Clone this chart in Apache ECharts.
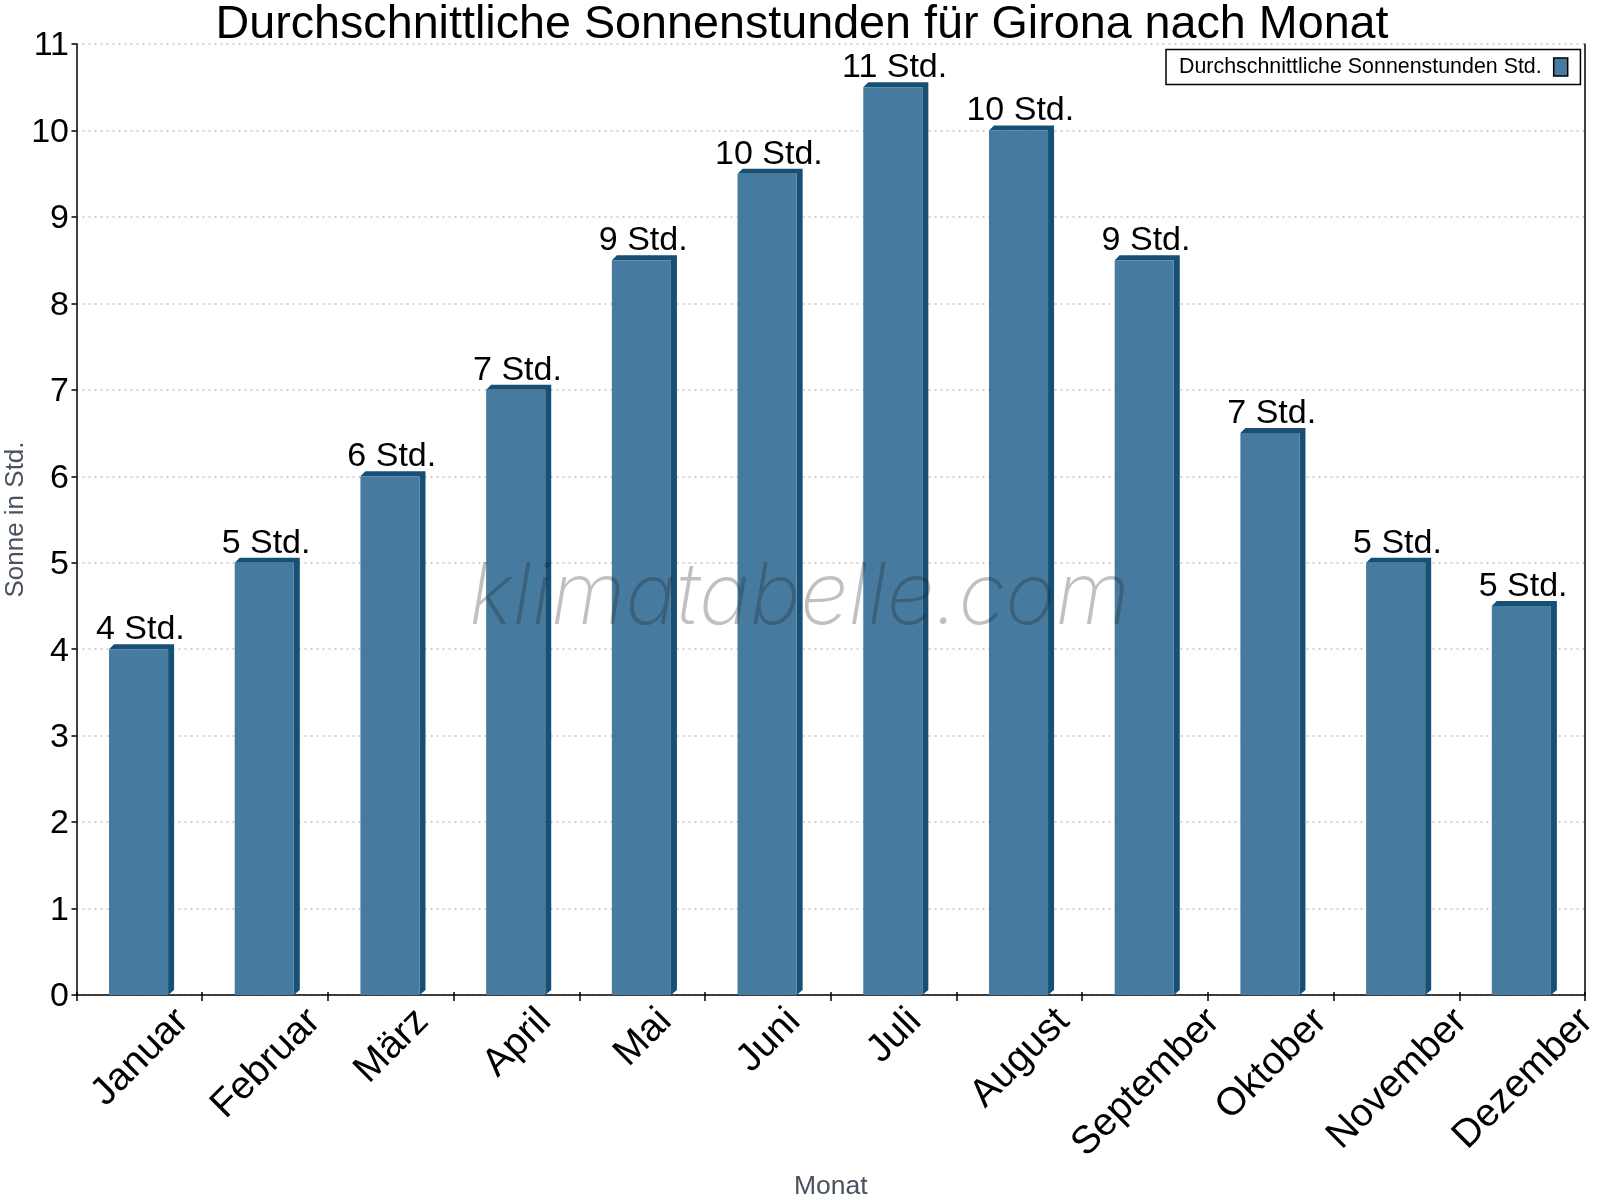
<!DOCTYPE html>
<html><head><meta charset="utf-8">
<style>html,body{margin:0;padding:0;background:#fff}#c{width:1600px;height:1200px}</style>
<script src="https://cdn.jsdelivr.net/npm/echarts@6/dist/echarts.min.js"></script>
</head><body><div id="c"></div>
<script>
const months = ['Januar','Februar','März','April','Mai','Juni','Juli','August','September','Oktober','November','Dezember'];
const sunHours = [4,5,6,7,8.5,9.5,10.5,10,8.5,6.5,5,4.5];
const barLabels = ['4 Std.','5 Std.','6 Std.','7 Std.','9 Std.','10 Std.','11 Std.','10 Std.','9 Std.','7 Std.','5 Std.','5 Std.'];
const yTicks = {min:0,max:11,interval:1};
const seriesName = 'Durchschnittliche Sonnenstunden Std.';
const FRONT='#467a9f', DARK='#174f75', FONT='"Liberation Sans",Arial,sans-serif';
const MONTH_FONT_SIZE = 39;

const ctx = document.createElement('canvas').getContext('2d');
ctx.font = MONTH_FONT_SIZE + 'px "Liberation Sans"';

const chart = echarts.init(document.getElementById('c'),null,{renderer:'canvas'});
function renderBar(params, api){
  const i = params.dataIndex;
  const top = api.coord([api.value(0), api.value(1)]);
  const base = api.coord([api.value(0), 0]);
  const w = api.size([1,0])[0]*0.47;
  const l = top[0]-w/2-0.8, r = l+w, d = 6, u = 5;
  // Month label: rotated box centred on the band, hanging from a common top line under the axis.
  const halfBox = (ctx.measureText(months[i]).width + MONTH_FONT_SIZE*0.75)/(2*Math.SQRT2);
  return {type:'group',children:[
    {type:'polygon',shape:{points:[[l,top[1]],[l+u,top[1]-u],[r+d,top[1]-u],[r+d,base[1]-u],[r,base[1]],[r,top[1]]]},style:{fill:DARK}},
    {type:'rect',shape:{x:l,y:top[1],width:w,height:base[1]-top[1]},style:{fill:FRONT}},
    {type:'text',style:{text:barLabels[i],x:top[0]+1,y:top[1]-2.5,align:'center',verticalAlign:'bottom',font:'34px '+FONT,fill:'#000'}},
    {type:'text',x:base[0]+1,y:base[1]+10+halfBox,rotation:Math.PI/4,
     style:{text:months[i],x:0,y:0,align:'center',verticalAlign:'middle',font:MONTH_FONT_SIZE+'px '+FONT,fill:'#000'}}
  ]};
}
chart.setOption({
  animation:false,
  backgroundColor:'#fff',
  title:{text:'Durchschnittliche Sonnenstunden für Girona nach Monat',left:797,top:-3,textAlign:'center',
    textStyle:{fontFamily:FONT,fontSize:46.7,fontWeight:'normal',color:'#000'}},
  legend:{show:true,data:[{name:seriesName,icon:'rect'}],left:1166,top:49.5,align:'right',orient:'horizontal',
    backgroundColor:'#fff',borderColor:'#000',borderWidth:1.5,borderRadius:0,padding:[7,12,7,13],itemWidth:14,itemHeight:18,itemGap:0,
    itemStyle:{borderColor:'#000',borderWidth:1.5},
    textStyle:{fontFamily:FONT,fontSize:21.4,color:'#000',padding:[0,7,0,0]},z:20},
  grid:{left:76.5,right:15,top:44,bottom:205,containLabel:false,outerBoundsMode:'none'},
  xAxis:[
    {type:'category',data:months,boundaryGap:true,position:'bottom',
     name:'Monat',nameLocation:'middle',nameGap:178,nameTextStyle:{fontFamily:FONT,fontSize:26.5,color:'#48535e'},
     axisLine:{lineStyle:{color:'#000',width:1.5}},axisTick:{show:true,alignWithLabel:false,length:6,lineStyle:{color:'#000',width:1.5}},
     axisLabel:{show:false},splitLine:{show:false}},
    {type:'category',data:[''].concat(months),boundaryGap:false,position:'bottom',
     axisLine:{show:false},axisTick:{show:true,inside:true,length:3,lineStyle:{color:'#000',width:1.5}},
     axisLabel:{show:false},splitLine:{show:false}}
  ],
  yAxis:[
    {type:'value',min:yTicks.min,max:yTicks.max,interval:yTicks.interval,
     name:'Sonne in Std.',nameLocation:'middle',nameGap:48,nameRotate:90,nameMoveOverlap:false,nameTextStyle:{fontFamily:FONT,fontSize:26,color:'#48535e'},
     axisLine:{show:true,lineStyle:{color:'#000',width:1.5}},axisTick:{show:true,length:5,lineStyle:{color:'#000',width:1.5}},
     axisLabel:{fontFamily:FONT,fontSize:34,color:'#000',margin:7.5,verticalAlign:'top',lineHeight:4},
     splitLine:{show:true,lineStyle:{color:'#c4c4c4',type:[2,4],width:1.5}}},
    {type:'value',position:'right',min:yTicks.min,max:yTicks.max,interval:yTicks.interval,
     axisLine:{show:true,lineStyle:{color:'#000',width:1.5}},axisTick:{show:false},axisLabel:{show:false},splitLine:{show:false}}
  ],
  series:[{type:'custom',name:seriesName,xAxisIndex:0,yAxisIndex:0,renderItem:renderBar,
    encode:{x:0,y:1},itemStyle:{color:FRONT},
    data:sunHours.map((v,i)=>[months[i],v]),z:5}],
  graphic:[{type:'text',z:10,left:469,top:555,silent:true,
    style:{text:'klimatabelle.com',font:'italic 200 85.7px Inter, Roboto, sans-serif',fill:'rgba(30,30,30,0.28)'}}]
});
</script></body></html>
